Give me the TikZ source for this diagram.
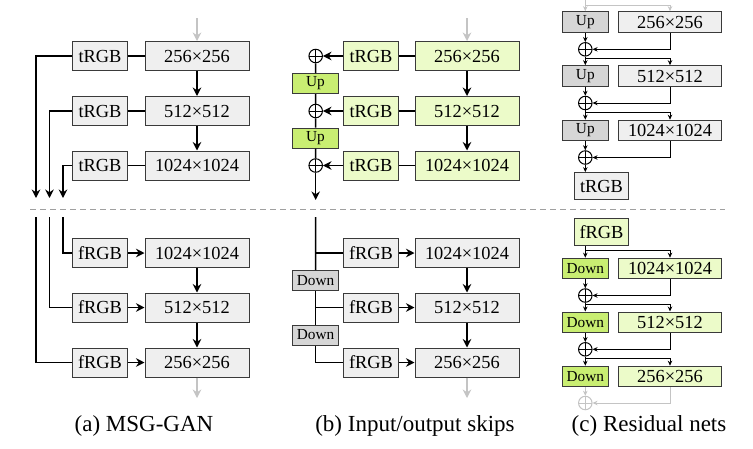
\documentclass[tikz,border=0pt]{standalone}
\usepackage{fontspec}
\setmainfont{Liberation Serif}
\usetikzlibrary{calc, positioning, arrows.meta}

\definecolor{boxgray}{HTML}{EFEFEF}
\definecolor{midgray}{HTML}{D6D6D6}
\definecolor{lightgreen}{HTML}{ECFBC9}
\definecolor{brightgreen}{HTML}{C9EE72}
\definecolor{edgegray}{HTML}{3A3A3A}
\definecolor{ghostgray}{HTML}{C4C4C4}
\definecolor{dashgray}{HTML}{A0A0A0}

\tikzset{
  blk/.style={draw=edgegray, line width=1pt, inner sep=0pt, minimum height=29pt,
    font=\fontsize{18.4}{20}\selectfont},
  rgbbox/.style={blk, minimum width=54.5pt},
  resbox/.style={blk, minimum width=104pt},
  smallbox/.style={draw=edgegray, line width=1pt, inner sep=0pt, minimum width=45.6pt,
    minimum height=20pt, font=\fontsize{15.3}{16}\selectfont},
  sum/.style={circle, draw, fill=white, line width=1pt, minimum size=13.5pt, inner sep=0pt,
    path picture={\draw (path picture bounding box.north) -- (path picture bounding box.south)
      (path picture bounding box.west) -- (path picture bounding box.east);}},
  wire/.style={line width=1.5pt, -{Stealth[length=8.5pt, width=8.5pt]}},
  line/.style={line width=1.5pt},
  ghost/.style={wire, draw=ghostgray},
  cwire/.style={line width=1pt, -{Stealth[length=5pt, width=4.5pt]}},
  cghost/.style={cwire, draw=ghostgray},
  caption/.style={font=\fontsize{23}{26}\selectfont}
}

\begin{document}
\begin{tikzpicture}[x=1pt, y=-1pt]
    \useasboundingbox (0,0) rectangle (753,448);

    % ---------- (a) MSG-GAN ----------
    \node[rgbbox, fill=boxgray] (aT1) at (100,56) {tRGB};
    \node[rgbbox, fill=boxgray] (aT2) at (100,111) {tRGB};
    \node[rgbbox, fill=boxgray] (aT3) at (100,165.5) {tRGB};
    \node[resbox, fill=boxgray] (aG1) at (197,56) {256×256};
    \node[resbox, fill=boxgray] (aG2) at (197,111) {512×512};
    \node[resbox, fill=boxgray] (aG3) at (197,165.5) {1024×1024};
    \coordinate (aIn) at (197,18);
    \coordinate (aO1) at (36,198);
    \coordinate (aO2) at (49.5,198);
    \coordinate (aO3) at (63,198);
    \draw[ghost] (aIn) -- (aG1);
    \draw[wire] (aG1) -- (aG2);
    \draw[wire] (aG2) -- (aG3);
    \draw[line] (aT1) -- (aG1);
    \draw[line] (aT2) -- (aG2);
    \draw[line] (aT3) -- (aG3);
    \draw[wire] (aT1.west) -| (aO1);
    \draw[wire] (aT2.west) -| (aO2);
    \draw[wire] (aT3.west) -| (aO3);

    \node[rgbbox, fill=boxgray] (aF1) at (100,253) {fRGB};
    \node[rgbbox, fill=boxgray] (aF2) at (100,307.5) {fRGB};
    \node[rgbbox, fill=boxgray] (aF3) at (100,362.5) {fRGB};
    \node[resbox, fill=boxgray] (aD1) at (197,253) {1024×1024};
    \node[resbox, fill=boxgray] (aD2) at (197,307.5) {512×512};
    \node[resbox, fill=boxgray] (aD3) at (197,362.5) {256×256};
    \coordinate (aI1) at (63,217);
    \coordinate (aI2) at (49.5,217);
    \coordinate (aI3) at (36,217);
    \coordinate (aOut) at (197,398);
    \draw[line] (aI1) |- (aF1.west);
    \draw[line] (aI2) |- (aF2.west);
    \draw[line] (aI3) |- (aF3.west);
    \draw[wire] (aF1) -- (aD1);
    \draw[wire] (aF2) -- (aD2);
    \draw[wire] (aF3) -- (aD3);
    \draw[wire] (aD1) -- (aD2);
    \draw[wire] (aD2) -- (aD3);
    \draw[ghost] (aD3) -- (aOut);

    % ---------- (b) Input/output skips ----------
    \node[rgbbox, fill=lightgreen] (bT1) at (371,56) {tRGB};
    \node[rgbbox, fill=lightgreen] (bT2) at (371,111) {tRGB};
    \node[rgbbox, fill=lightgreen] (bT3) at (371,165.5) {tRGB};
    \node[resbox, fill=lightgreen] (bG1) at (467,56) {256×256};
    \node[resbox, fill=lightgreen] (bG2) at (467,111) {512×512};
    \node[resbox, fill=lightgreen] (bG3) at (467,165.5) {1024×1024};
    \node[sum] (bS1) at (315.7,56) {};
    \node[sum] (bS2) at (315.7,111) {};
    \node[sum] (bS3) at (315.7,165.5) {};
    \node[smallbox, fill=brightgreen] (bU1) at (315.5,83.5) {Up};
    \node[smallbox, fill=brightgreen] (bU2) at (315.5,138) {Up};
    \coordinate (bIn) at (467,18);
    \coordinate (bOut) at (315.7,200);
    \draw[ghost] (bIn) -- (bG1);
    \draw[wire] (bG1) -- (bG2);
    \draw[wire] (bG2) -- (bG3);
    \draw[line] (bT1) -- (bG1);
    \draw[line] (bT2) -- (bG2);
    \draw[line] (bT3) -- (bG3);
    \draw[wire] (bT1) -- (bS1);
    \draw[wire] (bT2) -- (bS2);
    \draw[wire] (bT3) -- (bS3);
    \draw[line] (bS1) -- (bU1);
    \draw[line] (bU1) -- (bS2);
    \draw[line] (bS2) -- (bU2);
    \draw[line] (bU2) -- (bS3);
    \draw[wire] (bS3) -- (bOut);

    \node[rgbbox, fill=boxgray] (bF1) at (371,253) {fRGB};
    \node[rgbbox, fill=boxgray] (bF2) at (371,307.5) {fRGB};
    \node[rgbbox, fill=boxgray] (bF3) at (371,362.5) {fRGB};
    \node[resbox, fill=boxgray] (bD1) at (467,253) {1024×1024};
    \node[resbox, fill=boxgray] (bD2) at (467,307.5) {512×512};
    \node[resbox, fill=boxgray] (bD3) at (467,362.5) {256×256};
    \node[smallbox, fill=midgray] (bW1) at (315.5,280.5) {Down};
    \node[smallbox, fill=midgray] (bW2) at (315.5,335) {Down};
    \coordinate (bSrc) at (315.7,217);
    \coordinate (bEnd) at (467,398);
    \draw[line] (bSrc) -- (bW1);
    \draw[line] (bSrc |- bF1) -- (bF1);
    \draw[line] (bW1.south) |- (bF2.west);
    \draw[line] (bW1) -- (bW2);
    \draw[line] (bW2.south) |- (bF3.west);
    \draw[wire] (bF1) -- (bD1);
    \draw[wire] (bF2) -- (bD2);
    \draw[wire] (bF3) -- (bD3);
    \draw[wire] (bD1) -- (bD2);
    \draw[wire] (bD2) -- (bD3);
    \draw[ghost] (bD3) -- (bEnd);

    % ---------- (c) Residual nets ----------
    \node[smallbox, fill=midgray, minimum height=20.6pt] (cU1) at (585.3,22) {Up};
    \node[smallbox, fill=midgray, minimum height=20.6pt] (cU2) at (585.3,76) {Up};
    \node[smallbox, fill=midgray, minimum height=20.6pt] (cU3) at (585.3,130.5) {Up};
    \node[resbox, fill=boxgray, minimum height=20.6pt, minimum width=103.4pt] (cG1) at (670,22) {256×256};
    \node[resbox, fill=boxgray, minimum height=20.6pt, minimum width=103.4pt] (cG2) at (670,76) {512×512};
    \node[resbox, fill=boxgray, minimum height=20.6pt, minimum width=103.4pt] (cG3) at (670,130.5) {1024×1024};
    \node[sum] (cS1) at (585.3,49.3) {};
    \node[sum] (cS2) at (585.3,103) {};
    \node[sum] (cS3) at (585.3,157.5) {};
    \node[rgbbox, fill=boxgray, minimum height=27.3pt] (cT) at (601.5,186.3) {tRGB};
    \coordinate (cIn) at (585.3,0);
    \coordinate (cB0) at (585.3,5);
    \coordinate (cB1) at (585.3,58.5);
    \coordinate (cB2) at (585.3,112.5);
    \draw[cghost] (cIn) -- (cU1);
    \draw[cghost] (cB0) -| (cG1.north);
    \draw[cwire] (cU1) -- (cS1);
    \draw[cwire] (cU2) -- (cS2);
    \draw[cwire] (cU3) -- (cS3);
    \draw[cwire] (cG1.south) |- (cS1.east);
    \draw[cwire] (cG2.south) |- (cS2.east);
    \draw[cwire] (cG3.south) |- (cS3.east);
    \draw[cwire] (cS1) -- (cU2);
    \draw[cwire] (cS2) -- (cU3);
    \draw[cwire] (cB1) -| (cG2.north);
    \draw[cwire] (cB2) -| (cG3.north);
    \draw[cwire] (cS3) -- (cS3 |- cT.north);

    \node[rgbbox, fill=lightgreen, minimum height=27.7pt] (cF) at (601.5,232) {fRGB};
    \node[smallbox, fill=brightgreen, minimum height=20.6pt] (cW1) at (585.3,268.5) {Down};
    \node[smallbox, fill=brightgreen, minimum height=20.6pt] (cW2) at (585.3,322.3) {Down};
    \node[smallbox, fill=brightgreen, minimum height=20.6pt] (cW3) at (585.3,376.5) {Down};
    \node[resbox, fill=lightgreen, minimum height=20.6pt, minimum width=103.4pt] (cD1) at (670,268.5) {1024×1024};
    \node[resbox, fill=lightgreen, minimum height=20.6pt, minimum width=103.4pt] (cD2) at (670,322.3) {512×512};
    \node[resbox, fill=lightgreen, minimum height=20.6pt, minimum width=103.4pt] (cD3) at (670,376.5) {256×256};
    \node[sum] (cP1) at (585.3,295.5) {};
    \node[sum] (cP2) at (585.3,349.3) {};
    \node[sum, color=ghostgray, fill=white] (cP3) at (585.3,403) {};
    \coordinate (cB3) at (585.3,250.7);
    \coordinate (cB4) at (585.3,304.5);
    \coordinate (cB5) at (585.3,358.5);
    \draw[cwire] (cF.south -| cW1) -- (cW1);
    \draw[cwire] (cB3) -| (cD1.north);
    \draw[cwire] (cW1) -- (cP1);
    \draw[cwire] (cW2) -- (cP2);
    \draw[cghost] (cW3) -- (cP3);
    \draw[cwire] (cD1.south) |- (cP1.east);
    \draw[cwire] (cD2.south) |- (cP2.east);
    \draw[cghost] (cD3.south) |- (cP3.east);
    \draw[cwire] (cP1) -- (cW2);
    \draw[cwire] (cP2) -- (cW3);
    \draw[cwire] (cB4) -| (cD2.north);
    \draw[cwire] (cB5) -| (cD3.north);

    % separator and captions
    \coordinate (sepL) at (30,209.5);
    \coordinate (sepR) at (725,209.5);
    \draw[dashgray, line width=1pt, dash pattern=on 6pt off 4pt] (sepL) -- (sepR);
    \node[caption] (capA) at (144,426) {(a) MSG-GAN};
    \node[caption] (capB) at (415,426) {(b) Input/output skips};
    \node[caption] (capC) at (649,426) {(c) Residual nets};
\end{tikzpicture}
\end{document}
